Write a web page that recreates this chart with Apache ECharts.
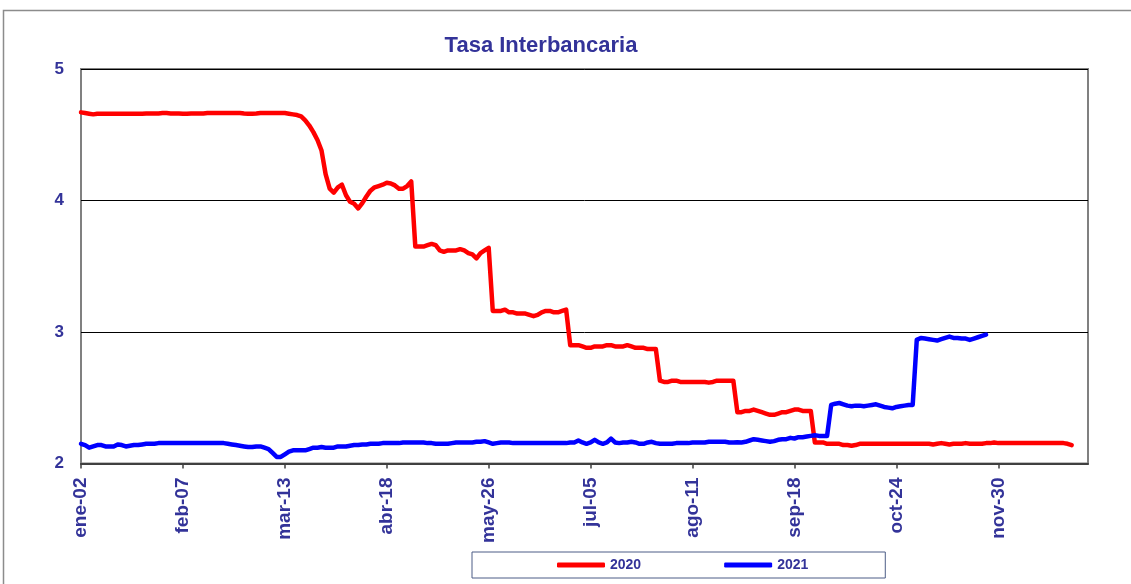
<!DOCTYPE html>
<html>
<head>
<meta charset="utf-8">
<script src="https://cdn.jsdelivr.net/npm/echarts@6/dist/echarts.min.js"></script>
<style>
html,body{margin:0;padding:0;background:#fff;}
#chart{width:1131px;height:584px;}
</style>
</head>
<body>
<div id="chart"></div>
<script>
const titleText = 'Tasa Interbancaria';
const seriesNames = ['2020', '2021'];
const tickLabels = ['ene-02','feb-07','mar-13','abr-18','may-26','jul-05','ago-11','sep-18','oct-24','nov-30'];
const tickStep = 25;
const xMax = 247;

const values2020 = [
4.67,4.665,4.66,4.655,4.66,4.66,4.66,4.66,4.66,4.66,
4.66,4.66,4.66,4.66,4.66,4.66,4.662,4.662,4.662,4.662,
4.665,4.665,4.662,4.662,4.662,4.66,4.66,4.662,4.662,4.662,
4.662,4.665,4.665,4.665,4.665,4.665,4.665,4.665,4.665,4.665,
4.662,4.66,4.66,4.662,4.665,4.665,4.665,4.665,4.665,4.665,
4.665,4.66,4.655,4.65,4.64,4.61,4.57,4.52,4.46,4.38,
4.20,4.09,4.06,4.10,4.12,4.04,3.99,3.975,3.94,3.98,
4.03,4.075,4.10,4.11,4.12,4.135,4.13,4.115,4.09,4.09,
4.11,4.145,3.65,3.65,3.65,3.66,3.67,3.66,3.62,3.61,
3.62,3.62,3.62,3.63,3.62,3.60,3.59,3.56,3.60,3.62,
3.64,3.16,3.16,3.16,3.17,3.15,3.15,3.14,3.14,3.14,
3.13,3.12,3.13,3.15,3.16,3.16,3.15,3.15,3.16,3.17,
2.90,2.90,2.90,2.89,2.88,2.88,2.89,2.89,2.89,2.90,
2.90,2.89,2.89,2.89,2.90,2.89,2.88,2.88,2.88,2.87,
2.87,2.87,2.63,2.62,2.62,2.63,2.63,2.62,2.62,2.62,
2.62,2.62,2.62,2.62,2.615,2.62,2.63,2.63,2.63,2.63,
2.63,2.39,2.39,2.40,2.40,2.41,2.40,2.39,2.38,2.37,
2.37,2.38,2.39,2.39,2.40,2.41,2.41,2.40,2.40,2.40,
2.16,2.16,2.16,2.15,2.15,2.15,2.15,2.14,2.14,2.135,
2.14,2.15,2.15,2.15,2.15,2.15,2.15,2.15,2.15,2.15,
2.15,2.15,2.15,2.15,2.15,2.15,2.15,2.15,2.15,2.145,
2.15,2.155,2.15,2.145,2.15,2.15,2.15,2.155,2.15,2.15,
2.15,2.15,2.155,2.155,2.16,2.155,2.155,2.155,2.155,2.155,
2.155,2.155,2.155,2.155,2.155,2.155,2.155,2.155,2.155,2.155,
2.155,2.155,2.15,2.14
];

const values2021 = [
2.15,2.14,2.12,2.13,2.14,2.14,2.13,2.13,2.13,2.145,
2.14,2.13,2.135,2.14,2.14,2.145,2.15,2.15,2.15,2.155,
2.155,2.155,2.155,2.155,2.155,2.155,2.155,2.155,2.155,2.155,
2.155,2.155,2.155,2.155,2.155,2.155,2.15,2.145,2.14,2.135,
2.13,2.125,2.125,2.13,2.13,2.12,2.11,2.08,2.05,2.05,
2.07,2.09,2.10,2.10,2.10,2.10,2.11,2.12,2.12,2.125,
2.12,2.12,2.12,2.13,2.13,2.13,2.135,2.14,2.14,2.145,
2.145,2.15,2.15,2.15,2.155,2.155,2.155,2.155,2.155,2.16,
2.16,2.16,2.16,2.16,2.16,2.155,2.155,2.15,2.15,2.15,
2.15,2.155,2.16,2.16,2.16,2.16,2.16,2.165,2.165,2.17,
2.16,2.15,2.155,2.16,2.16,2.16,2.155,2.155,2.155,2.155,
2.155,2.155,2.155,2.155,2.155,2.155,2.155,2.155,2.155,2.155,
2.16,2.16,2.175,2.16,2.15,2.16,2.18,2.16,2.15,2.16,
2.19,2.16,2.155,2.16,2.16,2.165,2.16,2.15,2.15,2.16,
2.165,2.155,2.15,2.15,2.15,2.15,2.155,2.155,2.155,2.155,
2.16,2.16,2.16,2.16,2.165,2.165,2.165,2.165,2.165,2.16,
2.16,2.162,2.16,2.165,2.175,2.185,2.18,2.175,2.17,2.165,
2.17,2.18,2.185,2.185,2.195,2.19,2.20,2.20,2.205,2.21,
2.215,2.21,2.21,2.21,2.445,2.455,2.46,2.45,2.44,2.435,
2.44,2.44,2.435,2.44,2.445,2.45,2.44,2.43,2.425,2.42,
2.43,2.435,2.44,2.445,2.445,2.94,2.955,2.95,2.945,2.94,
2.935,2.945,2.955,2.965,2.955,2.955,2.95,2.95,2.94,2.95,
2.96,2.97,2.98
];

const colors = ['#FF0000', '#0000FF'];
const textColor = '#333399';
const fontFamily = '"Liberation Sans", Arial, Helvetica, sans-serif';

const tickValues = tickLabels.map((_, k) => k * tickStep);
const toPairs = arr => arr.map((v, i) => [i, v]);

const chart = echarts.init(document.getElementById('chart'), null, {renderer: 'canvas'});
chart.setOption({
  animation: false,
  backgroundColor: '#ffffff',
  title: {
    text: titleText,
    left: 541,
    top: 35,
    textAlign: 'center',
    padding: 0,
    textStyle: {fontSize: 22, fontWeight: 'bold', color: textColor, fontFamily: fontFamily}
  },
  graphic: [{
    type: 'rect',
    shape: {x: 3.5, y: 10.5, width: 1140, height: 600},
    style: {fill: 'none', stroke: '#8c8c8c', lineWidth: 1.5},
    silent: true,
    z: -1
  }],
  legend: {
    left: 472,
    top: 552,
    orient: 'horizontal',
    padding: [6, 77, 6, 85],
    itemGap: 83,
    itemWidth: 48,
    itemHeight: 5,
    icon: 'roundRect',
    borderColor: '#4d5d86',
    borderWidth: 1,
    backgroundColor: '#ffffff',
    textStyle: {fontSize: 14, fontWeight: 'bold', color: textColor, fontFamily: fontFamily},
    data: seriesNames
  },
  grid: {
    left: 81, right: 43, top: 69, bottom: 120.5,
    show: true,
    borderColor: '#808080',
    borderWidth: 2,
    backgroundColor: '#ffffff',
    outerBoundsMode: 'none'
  },
  xAxis: {
    type: 'value',
    min: 0,
    max: xMax,
    interval: tickStep,
    splitLine: {show: false},
    axisLine: {show: true, lineStyle: {color: '#404040', width: 2}},
    axisTick: {show: true, inside: false, length: 5, customValues: tickValues, lineStyle: {color: '#404040', width: 1.5}},
    axisLabel: {
      customValues: tickValues,
      rotate: 90,
      margin: 14,
      fontSize: 19,
      fontWeight: 'bold',
      color: textColor,
      fontFamily: fontFamily,
      formatter: v => tickLabels[Math.round(v / tickStep)] || ''
    }
  },
  yAxis: {
    type: 'value',
    min: 2,
    max: 5,
    interval: 1,
    axisLine: {show: false},
    axisTick: {show: false},
    splitLine: {show: true, lineStyle: {color: '#000000', width: 1}},
    axisLabel: {margin: 17, fontSize: 17, fontWeight: 'bold', color: textColor, fontFamily: fontFamily}
  },
  series: [
    {
      name: seriesNames[0], type: 'line', data: toPairs(values2020),
      showSymbol: false, symbol: 'none', color: colors[0],
      lineStyle: {color: colors[0], width: 4.5, cap: 'round', join: 'round'},
      z: 3
    },
    {
      name: seriesNames[1], type: 'line', data: toPairs(values2021),
      showSymbol: false, symbol: 'none', color: colors[1],
      lineStyle: {color: colors[1], width: 4.5, cap: 'round', join: 'round'},
      z: 4
    }
  ]
});
</script>
</body>
</html>
